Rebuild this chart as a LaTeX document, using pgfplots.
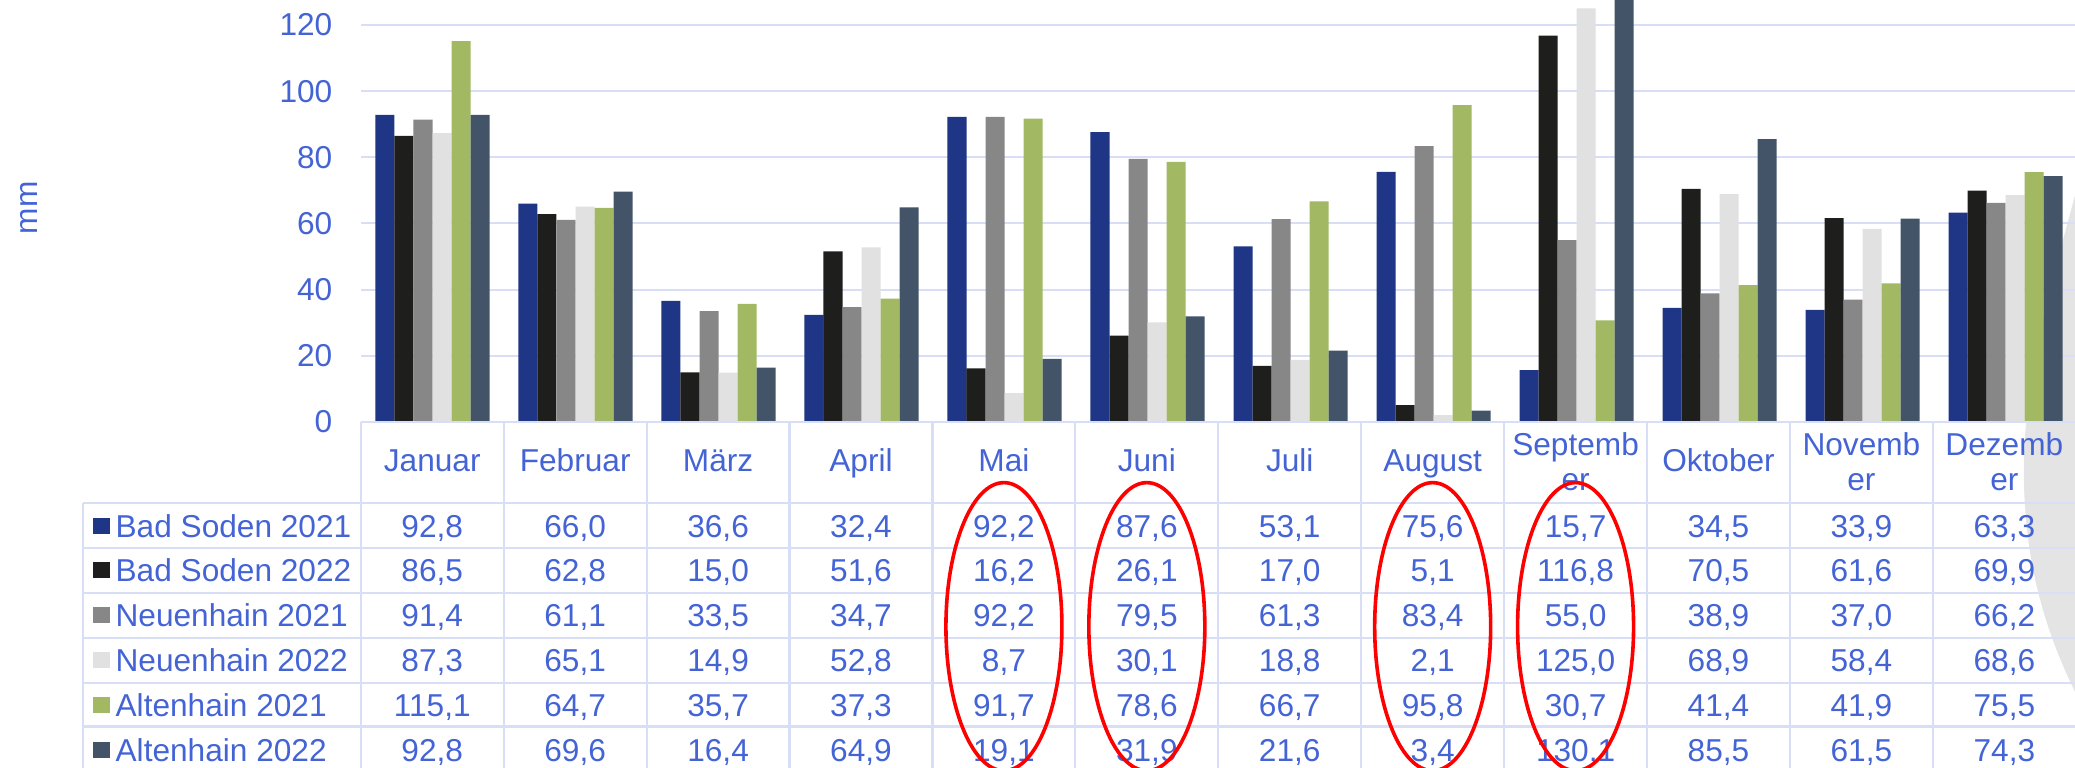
\documentclass[border=0pt]{standalone}
\usepackage{fontspec}
\setmainfont{Liberation Sans}
\usepackage{pgfplots}
\usepackage{pgfplotstable}
\pgfplotsset{compat=1.18}
\definecolor{txt}{RGB}{68,100,214}
\definecolor{gridc}{RGB}{216,222,246}
\definecolor{cA}{RGB}{31,53,133}
\definecolor{cB}{RGB}{30,30,28}
\definecolor{cC}{RGB}{135,135,135}
\definecolor{cD}{RGB}{225,225,225}
\definecolor{cE}{RGB}{162,184,98}
\definecolor{cF}{RGB}{67,84,105}
\definecolor{swoosh}{RGB}{228,228,228}
\newcommand\fs{\fontsize{9pt}{10.8pt}\selectfont}
\pgfkeys{/pgf/number format/assume math mode=true}

\pgfplotstableread{
month BSa BSb NHa NHb AHa AHb
0 92.8 86.5 91.4 87.3 115.1 92.8
1 66.0 62.8 61.1 65.1 64.7 69.6
2 36.6 15.0 33.5 14.9 35.7 16.4
3 32.4 51.6 34.7 52.8 37.3 64.9
4 92.2 16.2 92.2 8.7 91.7 19.1
5 87.6 26.1 79.5 30.1 78.6 31.9
6 53.1 17.0 61.3 18.8 66.7 21.6
7 75.6 5.1 83.4 2.1 95.8 3.4
8 15.7 116.8 55.0 125.0 30.7 130.1
9 34.5 70.5 38.9 68.9 41.4 85.5
10 33.9 61.6 37.0 58.4 41.9 61.5
11 63.3 69.9 66.2 68.6 75.5 74.3
}\raintable

\begin{document}
\begin{tikzpicture}
\useasboundingbox (0,0) rectangle (20.75,7.68);
\clip (0,0) rectangle (20.75,7.68);
\begin{scope}[yshift=7.68cm, x=0.01cm, y=-0.01cm]
\fill[swoosh] (2076,196) .. controls (2058,265) and (2025,370) .. (2025,470)
  .. controls (2025,570) and (2050,640) .. (2080,700) -- (2080,196) -- cycle;
\end{scope}
\begin{axis}[
  at={(3.61cm,3.46cm)}, anchor=south west,
  scale only axis, width=17.16cm, height=4.22cm,
  xmin=-0.5, xmax=11.5, ymin=0, ymax=127.56,
  enlargelimits=false,
  axis line style={draw=none},
  xtick=\empty,
  ytick={0,20,...,120},
  ymajorgrids, grid style={draw=gridc, line width=0.02cm},
  major tick length=0pt,
  yticklabel style={font=\fs, text=txt, inner sep=0pt, xshift=-0.28cm},
  ybar, bar width=0.1329,
  /pgf/number format/assume math mode=true,
]
\addplot[fill=cA, draw=none, bar shift=-0.33225] table[x=month, y=BSa] {\raintable};
\addplot[fill=cB, draw=none, bar shift=-0.19935] table[x=month, y=BSb] {\raintable};
\addplot[fill=cC, draw=none, bar shift=-0.06645] table[x=month, y=NHa] {\raintable};
\addplot[fill=cD, draw=none, bar shift=0.06645] table[x=month, y=NHb] {\raintable};
\addplot[fill=cE, draw=none, bar shift=0.19935] table[x=month, y=AHa] {\raintable};
\addplot[fill=cF, draw=none, bar shift=0.33225] table[x=month, y=AHb] {\raintable};
\end{axis}
\begin{scope}[yshift=7.68cm, x=0.01cm, y=-0.01cm, every node/.style={font=\fs, text=txt, inner sep=0pt}]
\draw[gridc, line width=0.022cm] (361,422) -- (2080,422);
\foreach \yy in {503,548,593,638,683,727} \draw[gridc, line width=0.022cm] (83,\yy) -- (2080,\yy);
\draw[gridc, line width=0.022cm] (83,503) -- (83,780);
\foreach \k in {0,...,11} \draw[gridc, line width=0.022cm] ({361+143*\k},422) -- ({361+143*\k},780);
\foreach \k/\m in {0/Januar,1/Februar,2/März,3/April,4/Mai,5/Juni,6/Juli,7/August,9/Oktober}
  \node[anchor=base] at ({361+143*(\k+0.5)},472) {\m};
\foreach \k/\m in {8/Septemb,10/Novemb,11/Dezemb} {
  \node[anchor=base] at ({361+143*(\k+0.5)},456) {\m};
  \node[anchor=base] at ({361+143*(\k+0.5)},491) {er};
}
\foreach \c/\r in {BSa/0,BSb/1,NHa/2,NHb/3,AHa/4,AHb/5} {
  \foreach \k in {0,...,11} {
    \pgfplotstablegetelem{\k}{\c}\of\raintable
    \node[anchor=base] at ({361+143*(\k+0.5)},{537.5+44.8*\r}) {\pgfmathprintnumber[fixed,fixed zerofill,precision=1,use comma]{\pgfplotsretval}};
  }
}
\foreach \r/\col/\lab in {0/cA/Bad Soden 2021,1/cB/Bad Soden 2022,2/cC/Neuenhain 2021,3/cD/Neuenhain 2022,4/cE/Altenhain 2021,5/cF/Altenhain 2022} {
  \fill[\col] (93,{518+44.8*\r}) rectangle (110,{534+44.8*\r});
  \node[anchor=base west] at (115,{537.5+44.8*\r}) {\lab};
}
\node[rotate=90] at (29,208) {mm};
\foreach \k in {4,5,7,8}
  \draw[red, line width=0.036cm] ({361+143*(\k+0.5)},627) ellipse [x radius=0.58cm, y radius=1.44cm];
\end{scope}
\end{tikzpicture}
\end{document}
